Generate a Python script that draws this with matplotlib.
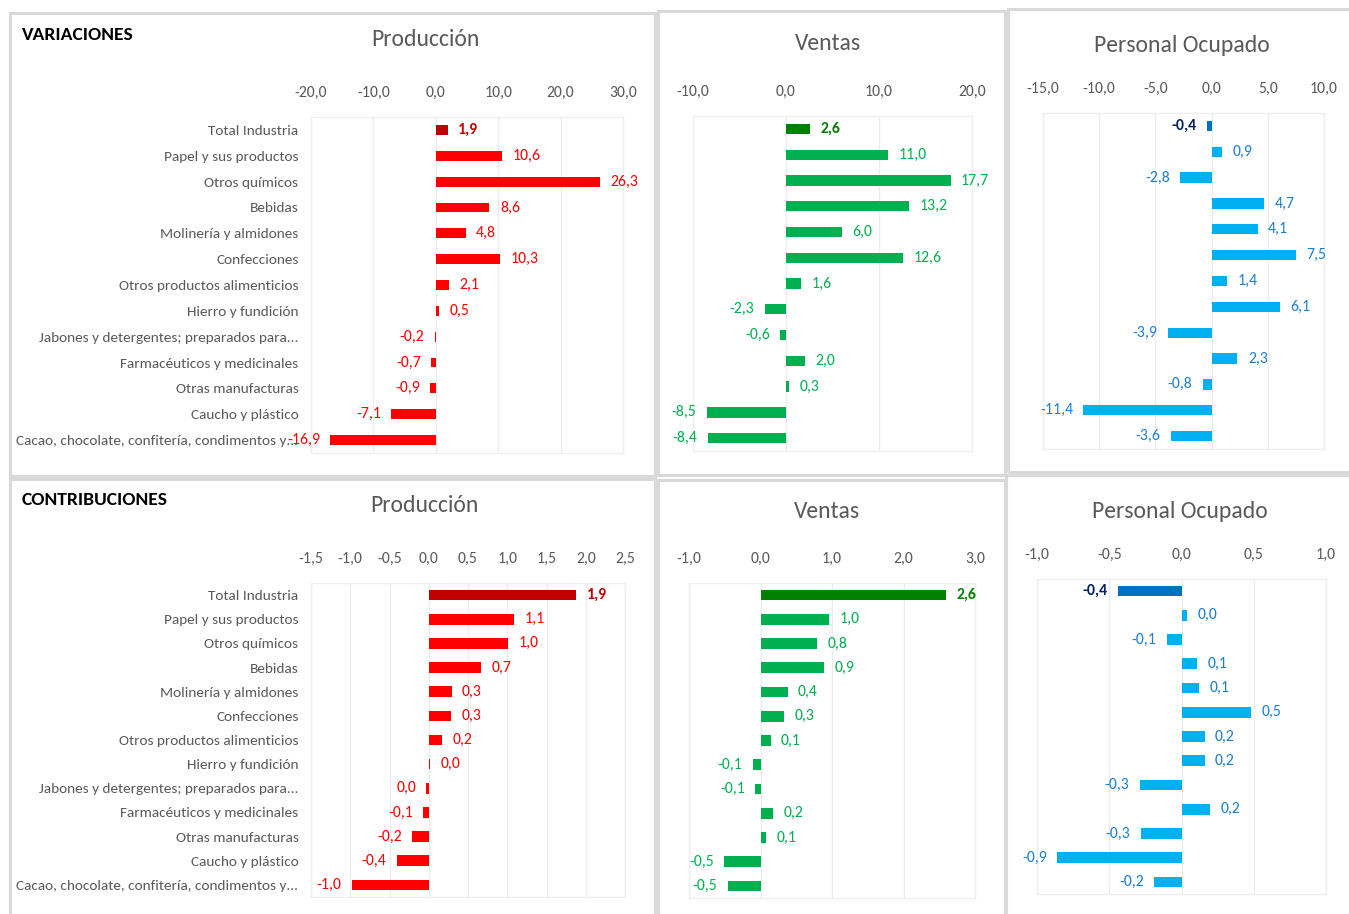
import matplotlib
matplotlib.use('Agg')
import matplotlib.pyplot as plt
import numpy as np
from matplotlib import font_manager
from matplotlib.patches import Rectangle

names = {f.name for f in font_manager.fontManager.ttflist}
base = 'DejaVu Sans'
for cand in ['Carlito', 'IBM Plex Sans Condensed', 'Liberation Sans']:
    if cand in names:
        base = cand
        break
plt.rcParams['font.family'] = [base, 'DejaVu Sans']

categories = ["Total Industria", "Papel y sus productos", "Otros químicos", "Bebidas",
              "Molinería y almidones", "Confecciones", "Otros productos alimenticios",
              "Hierro y fundición", "Jabones y detergentes; preparados para...",
              "Farmacéuticos y medicinales", "Otras manufacturas", "Caucho y plástico",
              "Cacao, chocolate, confitería, condimentos y..."]

var_prod = [1.9, 10.6, 26.3, 8.6, 4.8, 10.3, 2.1, 0.5, -0.2, -0.7, -0.9, -7.1, -16.9]
var_ventas = [2.6, 11.0, 17.7, 13.2, 6.0, 12.6, 1.6, -2.3, -0.6, 2.0, 0.3, -8.5, -8.4]
var_personal = [-0.4, 0.9, -2.8, 4.7, 4.1, 7.5, 1.4, 6.1, -3.9, 2.3, -0.8, -11.4, -3.6]
con_prod = [1.88, 1.09, 1.01, 0.67, 0.29, 0.28, 0.17, 0.02, -0.03, -0.07, -0.21, -0.41, -0.98]
con_ventas = [2.60, 0.96, 0.79, 0.89, 0.38, 0.33, 0.14, -0.11, -0.07, 0.18, 0.08, -0.51, -0.46]
con_personal = [-0.44, 0.04, -0.10, 0.11, 0.12, 0.48, 0.16, 0.16, -0.29, 0.20, -0.28, -0.86, -0.19]

W, H = 1349, 914
fig = plt.figure(figsize=(W / 100, H / 100), dpi=100)
fig.patch.set_facecolor('white')

GRAY = '#595959'
FS = 11.3
FS_CAT = 11.0


def fmt(v):
    s = f"{v:.1f}".replace('.', ',')
    if s == '-0,0':
        s = '0,0'
    return s


def px_axes(l, t, r, b):
    return fig.add_axes([l / W, 1 - b / H, (r - l) / W, (b - t) / H])


def panel_box(l, t, r, b):
    fig.add_artist(Rectangle((l / W, 1 - b / H), (r - l) / W, (b - t) / H,
                             transform=fig.transFigure, fill=False,
                             edgecolor='#d9d9d9', lw=2.2, zorder=0))


# panel boxes
panel_box(10, 13, 655, 476)
panel_box(658, 11, 1005, 475)
panel_box(1008, 9, 1352, 472)
panel_box(10, 479, 655, 920)
panel_box(658, 480, 1005, 920)
panel_box(1006, 475, 1352, 920)


def draw(rect, vals, xlim, step, bar_col, tot_col, lab_col, tot_lab_col,
         show_cats, height):
    ax = px_axes(*rect)
    y = np.arange(len(vals))
    colors = [tot_col] + [bar_col] * (len(vals) - 1)
    ax.barh(y, vals, height=height, color=colors, edgecolor='none', zorder=3)
    ax.set_xlim(*xlim)
    ax.set_ylim(len(vals) - 0.5, -0.5)
    ticks = np.arange(xlim[0], xlim[1] + step / 2, step)
    ax.set_xticks(ticks)
    ax.set_xticklabels([fmt(t) for t in ticks])
    ax.xaxis.tick_top()
    ax.tick_params(axis='x', length=0, pad=12, labelsize=FS, labelcolor=GRAY)
    ax.grid(axis='x', color='#ececec', lw=1, zorder=0)
    ax.set_axisbelow(True)
    for s in ax.spines.values():
        s.set_color('#efefef')
        s.set_linewidth(1)
    if show_cats:
        ax.set_yticks(y)
        ax.set_yticklabels(categories)
        ax.tick_params(axis='y', length=0, pad=9, labelsize=FS_CAT, labelcolor=GRAY)
    else:
        ax.set_yticks([])
    for i, v in enumerate(vals):
        off = 7.5 if v >= 0 else -7.5
        ha = 'left' if v >= 0 else 'right'
        col = tot_lab_col if i == 0 else lab_col
        ax.annotate(fmt(v), (v, i), xytext=(off, 0), textcoords='offset points',
                    ha=ha, va='center', fontsize=FS, color=col,
                    fontweight='bold' if i == 0 else 'normal', zorder=5,
                    annotation_clip=False)
    return ax


RED, DRED = '#FF0000', '#C00000'
GREEN, DGREEN, GLAB = '#00B050', '#008000', '#00B050'
BLUE, DBLUE, BLAB, NAVY = '#00B0F0', '#0070C0', '#1B7FD0', '#002060'

draw((311, 117, 623, 453), var_prod, (-20, 30), 10, RED, DRED, RED, DRED, True, 0.38)
draw((693, 116, 972, 451), var_ventas, (-10, 20), 10, GREEN, DGREEN, GLAB, DGREEN, False, 0.40)
draw((1043, 113, 1324, 449), var_personal, (-15, 10), 5, BLUE, DBLUE, BLAB, NAVY, False, 0.40)
draw((311, 583, 625, 897), con_prod, (-1.5, 2.5), 0.5, RED, DRED, RED, DRED, True, 0.44)
draw((689, 583, 975, 898), con_ventas, (-1, 3), 1, GREEN, DGREEN, GLAB, DGREEN, False, 0.44)
draw((1037, 579, 1326, 894), con_personal, (-1, 1), 0.5, BLUE, DBLUE, BLAB, NAVY, False, 0.44)


def ftext(x, y, s, **kw):
    fig.text(x / W, 1 - y / H, s, **kw)


tkw = dict(ha='center', va='center', fontsize=17, color=GRAY)
ftext(425, 40, 'Producción', **tkw)
ftext(828, 43, 'Ventas', **tkw)
ftext(1182, 45, 'Personal Ocupado', **tkw)
ftext(424, 505, 'Producción', **tkw)
ftext(827, 511, 'Ventas', **tkw)
ftext(1180, 511, 'Personal Ocupado', **tkw)

skw = dict(ha='left', va='center', fontsize=14, color='black', fontweight='bold')
ftext(22, 35, 'VARIACIONES', **skw)
ftext(22, 500, 'CONTRIBUCIONES', **skw)

fig.savefig('out.png', dpi=100, facecolor='white')
